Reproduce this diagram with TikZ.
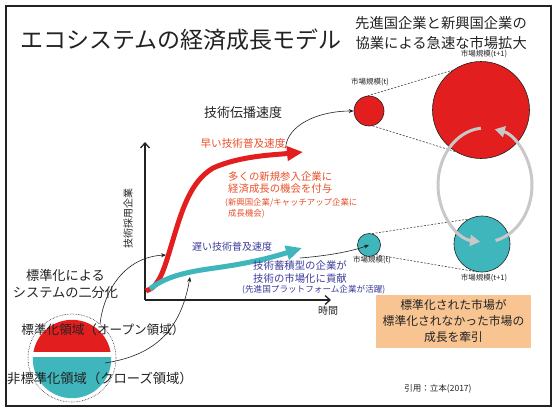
\documentclass[tikz,border=0pt]{standalone}
\usepackage{fontspec}
\setmainfont{Noto Sans CJK JP}
\usetikzlibrary{arrows.meta,calc}
\definecolor{redc}{HTML}{E31E1E}
\definecolor{tealc}{HTML}{3FB6BC}
\definecolor{orangetxt}{HTML}{E8502A}
\definecolor{bluetxt}{HTML}{3B3B9B}
\definecolor{boxc}{HTML}{F8C592}
\definecolor{grayarr}{HTML}{C8C8C8}
\definecolor{ink}{HTML}{222222}
\newcommand{\fs}[1]{\fontsize{#1}{#1}\selectfont}
\begin{document}
\begin{tikzpicture}[x=1pt,y=-1pt,
  every node/.style={inner sep=0pt, text=ink},
  mkt/.style={circle, draw=ink, line width=0.6pt, inner sep=0pt},
  tang/.style={draw=ink!85, line width=0.6pt, dash pattern=on 2pt off 1.5pt},
  thinarr/.style={draw=ink, line width=0.6pt, -{Stealth[length=5pt,width=4pt]}},
  grayloop/.style={draw=grayarr, line width=3pt, -{Triangle[length=10pt,width=11pt]}},
  bigcurve/.style={line width=5pt, -{Triangle[length=16pt,width=14pt]}},
  axis/.style={draw=ink, line width=1.3pt, -{Straight Barb[length=5pt,width=9pt]}},
  small/.style={font=\fs{7.5}},
  subt/.style={anchor=east, font=\fs{14.3}}
]
\useasboundingbox (0,0) rectangle (560,413);
\draw[ink, line width=1.2pt] (6,6) rectangle (551,406);

% titles
\node[anchor=west, font=\fs{23}] (title) at (20,40) {エコシステムの経済成長モデル};
\node[subt] (sub1) at (527,23) {先進国企業と新興国企業の};
\node[subt] (sub2) at (527,43) {協業による急速な市場拡大};

% market circles
\node[mkt, fill=redc, minimum size=30pt] (rs) at (369,111) {};
\node[mkt, fill=redc, minimum size=97pt] (rb) at (481,110) {};
\node[mkt, fill=tealc, minimum size=23pt] (ts) at (369,245) {};
\node[mkt, fill=tealc, minimum size=56pt] (tb) at (482,244) {};

\draw[tang] (rs.95) -- (rb.125);
\draw[tang] (rs.-76) -- (rb.-121);
\draw[tang] (ts.75) -- (tb.118);
\draw[tang] (ts.-55) -- (tb.-100);

\node[small] (lrs) at (370,82) {市場規模(t)};
\node[small] (lrb) at (484,54) {市場規模(t+1)};
\node[small] (lts) at (372,260) {市場規模(t)};
\node[small] (ltb) at (484,278) {市場規模(t+1)};

% gray loop arrows
\coordinate (lc) at (485,185);
\draw[grayloop] ($(lc)+({47*cos(-95)},{57*sin(-95)})$) arc[start angle=-95, end angle=-264, x radius=47, y radius=57];
\draw[grayloop] ($(lc)+({47*cos(-283)},{57*sin(-283)})$) arc[start angle=-283, end angle=-438, x radius=47, y radius=57];

% axes
\coordinate (O) at (145,300);
\coordinate (ytop) at (145,142);
\coordinate (xend) at (331,300);
\draw[axis] (O) -- (ytop);
\draw[axis] (O) -- (xend);
\node[font=\fs{10}, rotate=90] (ylab) at (128,218) {技術採用企業};
\node[font=\fs{10}] (xlab) at (328,311) {時間};

% curves
\coordinate (rstart) at (146,291);
\coordinate (rtip) at (303,152);
\coordinate (tstart) at (150,289);
\coordinate (ttip) at (302,248);
\draw[bigcurve, redc] (rstart) .. controls (160,287) and (165,266) .. (172,243)
  .. controls (182,210) and (190,182) .. (213,168)
  .. controls (240,156) and (272,155) .. (rtip);
\draw[bigcurve, tealc] (tstart) .. controls (165,277) and (185,272) .. (215,268)
  .. controls (250,263) and (270,258) .. (ttip);

% texts along the chart
\node[font=\fs{13}] (speed) at (243,113) {技術伝播速度};
\node[font=\fs{10.6}, text=orangetxt] (fast) at (243,143) {早い技術普及速度};
\node[anchor=west, align=left, font=\fontsize{10.4}{12}\selectfont, text=orangetxt] (newent) at (228,183) {多くの新規参入企業に\\経済成長の機会を付与};
\node[anchor=west, align=left, font=\fontsize{8.4}{11}\selectfont, text=orangetxt] (newsub) at (225,208.5) {(新興国企業/キャッチアップ企業に\\\hspace*{3pt}成長機会)};
\node[font=\fs{10}, text=bluetxt] (slow) at (232,247) {遅い技術普及速度};
\node[anchor=west, align=left, font=\fontsize{10.4}{12.5}\selectfont, text=bluetxt] (accum) at (253,272) {技術蓄積型の企業が\\技術の市場化に貢献};
\node[anchor=west, font=\fs{8.6}, text=bluetxt] (platf) at (242,290) {(先進国プラットフォーム企業が活躍)};

% thin arrows to the market circles
\draw[thinarr] (fast.south east) .. controls (287,125) and (318,111) .. (rs.west);
\coordinate (tfrom) at (300,258);
\draw[thinarr] (tfrom) .. controls (325,256) and (350,252) .. (ts.center);

% left: dichotomy
\node[align=center, font=\fontsize{13.2}{17}\selectfont] (dual) at (65.5,283.5) {標準化による\\システムの二分化};
\node[circle, draw=ink, densely dotted, line width=0.6pt, minimum size=88pt] (dc) at (72,358) {};
\begin{scope}
  \clip (72,359) circle[radius=39.2pt];
  \fill[redc] (30,315) rectangle (115,352);
  \fill[tealc] (30,357) rectangle (115,402);
\end{scope}
\node[font=\fs{12.6}] (std) at (103,330) {標準化領域（オープン領域）};
\node[font=\fs{13.3}] (nonstd) at (100,378) {非標準化領域（クローズ領域）};
\coordinate (redfrom) at (100,324);
\coordinate (redto) at (166,255);
\coordinate (tealfrom) at (105,363);
\coordinate (tealto) at (190,277);
\draw[thinarr] (redfrom) .. controls (104,290) and (125,257) .. (redto);
\draw[thinarr] (tealfrom) .. controls (150,356) and (180,335) .. (tealto);

% box and citation
\node[fill=boxc, minimum width=155pt, minimum height=53pt, align=center, font=\fontsize{11.8}{16}\selectfont] (box) at (453.5,321.5) {標準化された市場が\\標準化されなかった市場の\\成長を牽引};
\node[font=\fs{8.5}] (cite) at (438,389) {引用：立本(2017)};
\end{tikzpicture}
\end{document}
